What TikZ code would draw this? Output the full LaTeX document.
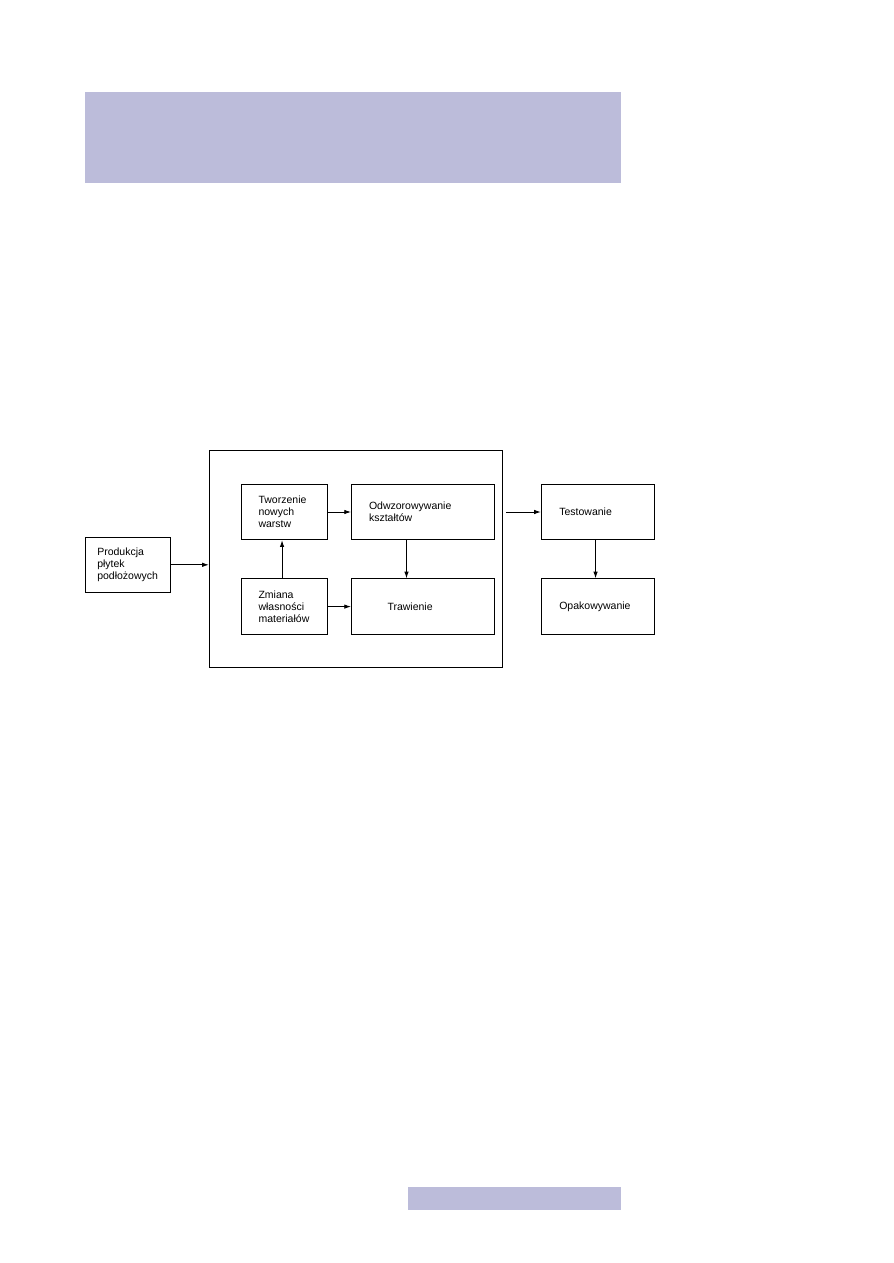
\documentclass[tikz,border=0pt]{standalone}
\usepackage{fontspec}
\setmainfont{Liberation Sans}
\usetikzlibrary{arrows.meta}
\definecolor{bandblue}{RGB}{188,188,218}
\begin{document}
\begin{tikzpicture}[x=0.6663pt, y=-0.6663pt, >={Latex[length=4.5pt,width=3pt]}, line width=0.6pt,
    stage/.style={draw, rectangle, align=left, minimum height=37pt, inner ysep=0pt,
      font=\fontsize{7pt}{8pt}\selectfont}]
  \useasboundingbox (0,0) rectangle (893,1263);
  % pasy strony
  \fill[bandblue] (85,92) rectangle (621,183);
  \fill[bandblue] (408,1187) rectangle (621,1210);
  % ramka procesu
  \node[draw, minimum width=195.5pt, minimum height=144.6pt] (frame) at (356,558.8) {};
  \node[stage, text width=41.2pt, inner xsep=7.7pt] (prod) at (128.2,564.8) {Produkcja\\płytek\\podłożowych};
  \node[stage, text width=34.3pt, inner xsep=11.5pt] (tworz) at (284.3,512) {Tworzenie\\nowych\\warstw};
  \node[stage, text width=34.3pt, inner xsep=11.5pt] (zmiana) at (284.3,606.6) {Zmiana\\własności\\materiałów};
  \node[stage, text width=71.9pt, inner xsep=11.7pt] (odw) at (423,512) {Odwzorowywanie\\kształtów};
  \node[stage, text width=47.3pt, inner xsep=24pt] (traw) at (423,606.6) {Trawienie};
  \node[stage, text width=51.3pt, inner xsep=12pt] (test) at (597.8,512) {Testowanie};
  \node[stage, text width=51.3pt, inner xsep=12pt] (opak) at (597.8,606.6) {Opakowywanie};
  % strzałki
  \draw[->] (prod.east) -- (prod.east -| frame.west);
  \draw[->] ([xshift=-1.5pt]zmiana.north) -- ([xshift=-1.5pt]tworz.south);
  \draw[->] (tworz) -- (odw);
  \draw[->] (zmiana) -- (traw);
  \draw[->] ([xshift=-11pt]odw.south) -- ([xshift=-11pt]traw.north);
  \draw[->, shorten <=2pt] (test.west -| frame.east) -- (test.west);
  \draw[->] ([xshift=-1.5pt]test.south) -- ([xshift=-1.5pt]opak.north);
\end{tikzpicture}
\end{document}
